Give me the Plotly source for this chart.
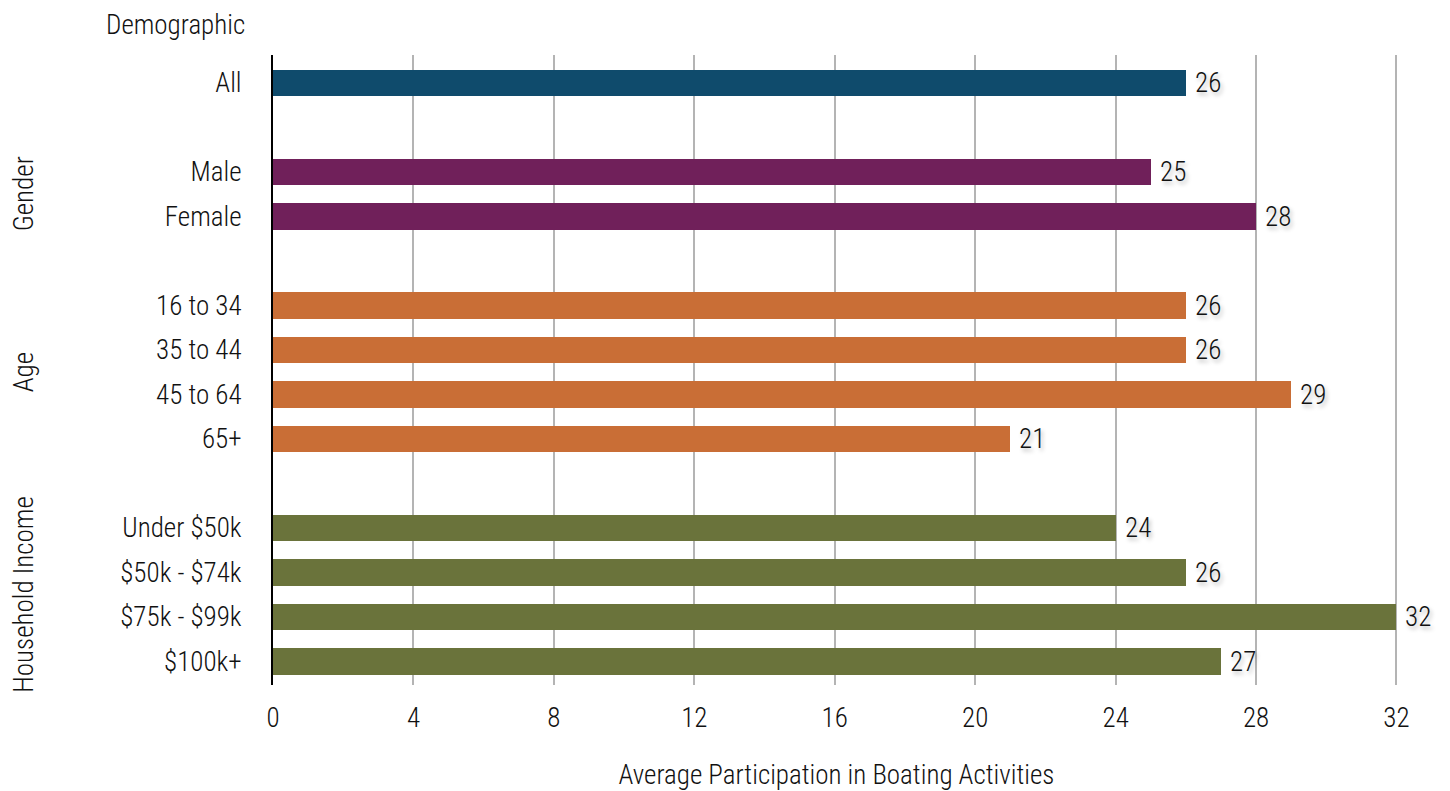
import plotly.graph_objects as go

categories = ["All", "Male", "Female", "16 to 34", "35 to 44", "45 to 64", "65+",
              "Under $50k", "$50k - $74k", "$75k - $99k", "$100k+"]
values = [26, 25, 28, 26, 26, 29, 21, 24, 26, 32, 27]
groups = ["All", "Gender", "Gender", "Age", "Age", "Age", "Age",
          "Household Income", "Household Income", "Household Income", "Household Income"]
slots = [0, 2, 3, 5, 6, 7, 8, 10, 11, 12, 13]
group_colors = {"All": "#0f4b6c", "Gender": "#70205a", "Age": "#c96e36", "Household Income": "#6a733b"}
x_ticks = [0, 4, 8, 12, 16, 20, 24, 28, 32]

FONT = "Roboto Condensed, Arial Narrow, Roboto, sans-serif"
FS = 27
W = 300

fig = go.Figure()
fig.add_trace(go.Bar(
    x=values, y=slots, orientation="h",
    marker=dict(color=[group_colors[g] for g in groups], line=dict(width=0)),
    width=0.6,
    text=["\u00a0" + str(v) for v in values], textposition="outside", cliponaxis=False,
    constraintext="none",
    textfont=dict(family=FONT, size=FS, weight=W, color="#111111",
                  shadow="2px 3px 4px rgba(0,0,0,0.28)"),
    hoverinfo="x+y",
))

# group labels
for g in ["Gender", "Age", "Household Income"]:
    ys = [s for s, gg in zip(slots, groups) if gg == g]
    fig.add_annotation(x=-0.2209, xref="paper", xanchor="center", y=(min(ys) + max(ys)) / 2, yref="y",
                       text=g, textangle=-90, showarrow=False,
                       font=dict(family=FONT, size=FS, weight=W, color="#111111"))

fig.add_annotation(x=0.0, xref="paper", xanchor="right", xshift=-26, y=1.0, yref="paper",
                   yanchor="middle", yshift=30, text="Demographic", showarrow=False,
                   font=dict(family=FONT, size=FS, weight=W, color="#111111"))

fig.update_layout(
    width=1442, height=783,
    margin=dict(l=265, r=50, t=47, b=106),
    plot_bgcolor="white", paper_bgcolor="white",
    showlegend=False, bargap=0,
    font=dict(family=FONT, size=FS, weight=W, color="#111111"),
    xaxis=dict(range=[0, 32.1], tickvals=x_ticks, ticktext=[str(t) for t in x_ticks],
               showgrid=True, gridcolor="#b4b4b4", gridwidth=2, zeroline=False,
               showline=False, ticks="", ticklen=0, ticklabelstandoff=14, automargin=False,
               title=dict(text="Average Participation in Boating Activities", standoff=38,
                          font=dict(family=FONT, size=FS, weight=W, color="#111111")),
               tickfont=dict(family=FONT, size=FS, weight=W, color="#111111")),
    yaxis=dict(range=[13.53, -0.63], tickvals=slots, ticktext=categories, automargin=False,
               showgrid=False, zeroline=False, showline=True, linecolor="#000000", linewidth=2,
               ticks="", ticklabelstandoff=24,
               tickfont=dict(family=FONT, size=FS, weight=W, color="#111111")),
)

fig.write_html("out.html")
